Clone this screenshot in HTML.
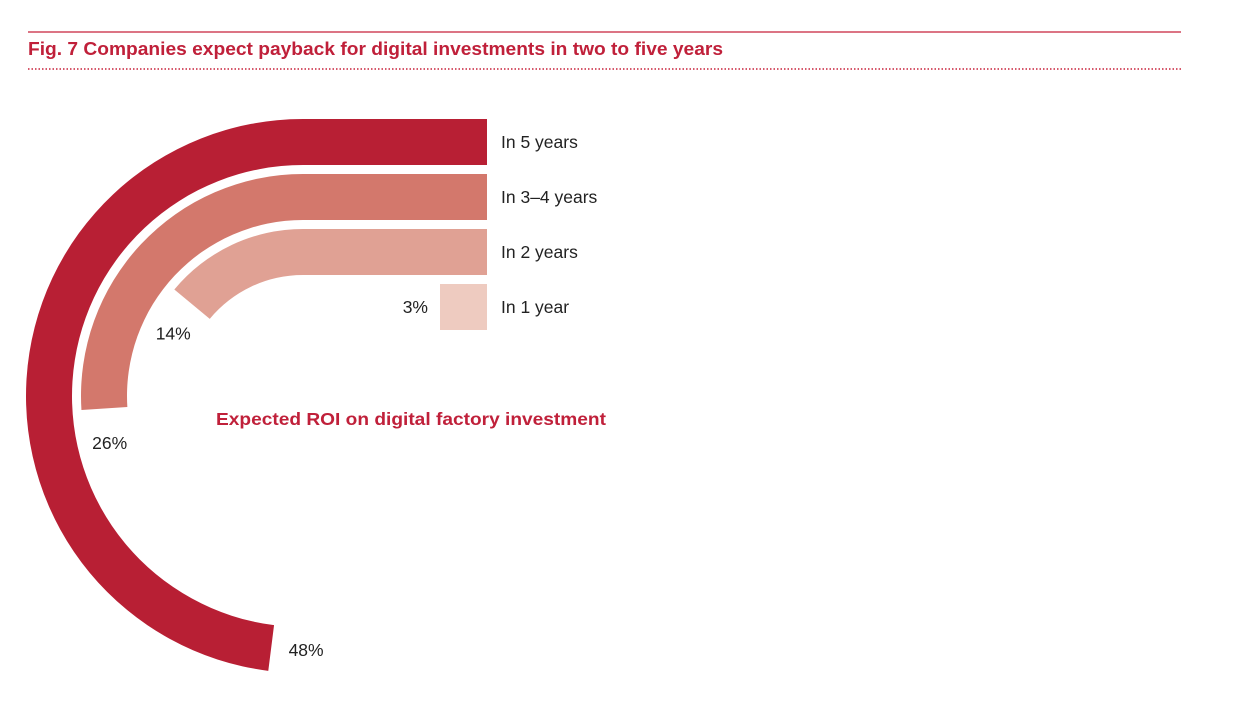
<!DOCTYPE html>
<html><head><meta charset="utf-8"><style>
html,body{margin:0;padding:0;background:#fff;}
svg{display:block;font-family:"Liberation Sans",Arial,sans-serif;}
</style></head><body>
<svg id="chart" width="1237" height="711" viewBox="0 0 1237 711">
<line x1="28" y1="32" x2="1181" y2="32" stroke="#C8203A" stroke-width="1.2"/>
<text x="28" y="55" font-size="18" font-weight="bold" fill="#C0203A" textLength="695" lengthAdjust="spacingAndGlyphs">Fig. 7  Companies expect payback for digital investments in two to five years</text>
<line x1="28" y1="69" x2="1181" y2="69" stroke="#C8203A" stroke-width="1.5" stroke-dasharray="1.5,2"/>
<text x="216" y="425" font-size="17.5" font-weight="bold" fill="#C0203A" textLength="390" lengthAdjust="spacingAndGlyphs">Expected ROI on digital factory investment</text>
<g id="bars"></g>
</svg>
<script>
const categories = ["In 5 years","In 3–4 years","In 2 years","In 1 year"];
const values = [48, 26, 14, 3];
const valueLabels = ["48%","26%","14%","3%"];
const colors = ["#B81F34","#D3786C","#E0A194","#EECBC0"];
const CX = 303, CY = 396, XEND = 487, OUTER = 277, THICK = 46, PITCH = 55;
const STRAIGHT = XEND - CX;
const PX_PER_PCT = 47/3;
function angleFor(v){ return v*3.6*Math.PI/180; }
function pt(r,t){ return [CX - r*Math.sin(t), CY - r*Math.cos(t)]; }
const g = document.getElementById('bars');
const NS = "http://www.w3.org/2000/svg";
values.forEach((v,i)=>{
  const ro = OUTER - i*PITCH, ri = ro - THICK, rm = (ro+ri)/2;
  const straight = Math.min(STRAIGHT, v*PX_PER_PCT);
  let d, lx, ly, anchor = "middle";
  if (straight < STRAIGHT) {
    const x0 = XEND - straight;
    d = `M${XEND},${CY-ro} L${x0},${CY-ro} L${x0},${CY-ri} L${XEND},${CY-ri} Z`;
    lx = x0 - 12; ly = CY - rm + 6; anchor = "end";
  } else {
    const t = angleFor(v);
    const [ox,oy] = pt(ro,t), [ix,iy] = pt(ri,t);
    const large = t > Math.PI ? 1 : 0;
    d = `M${XEND},${CY-ro} L${CX},${CY-ro} A${ro},${ro} 0 ${large} 0 ${ox},${oy} L${ix},${iy} A${ri},${ri} 0 ${large} 1 ${CX},${CY-ri} L${XEND},${CY-ri} Z`;
    const [px,py] = pt(rm, t + 35/rm);
    lx = px; ly = py + 6;
  }
  const p = document.createElementNS(NS,'path');
  p.setAttribute('d', d);
  p.setAttribute('fill', colors[i]);
  
  
  g.appendChild(p);
  const c = document.createElementNS(NS,'text');
  c.setAttribute('x', XEND + 14);
  c.setAttribute('y', CY - rm + 6);
  c.setAttribute('font-size', '17.5');
  c.setAttribute('fill', '#222');
  c.textContent = categories[i];
  
  
  g.appendChild(c);
  const vl = document.createElementNS(NS,'text');
  vl.setAttribute('x', lx);
  vl.setAttribute('y', ly);
  vl.setAttribute('font-size', '17.5');
  vl.setAttribute('fill', '#222');
  vl.setAttribute('text-anchor', anchor);
  vl.textContent = valueLabels[i];
  
  
  g.appendChild(vl);
});
</script>
</body></html>
